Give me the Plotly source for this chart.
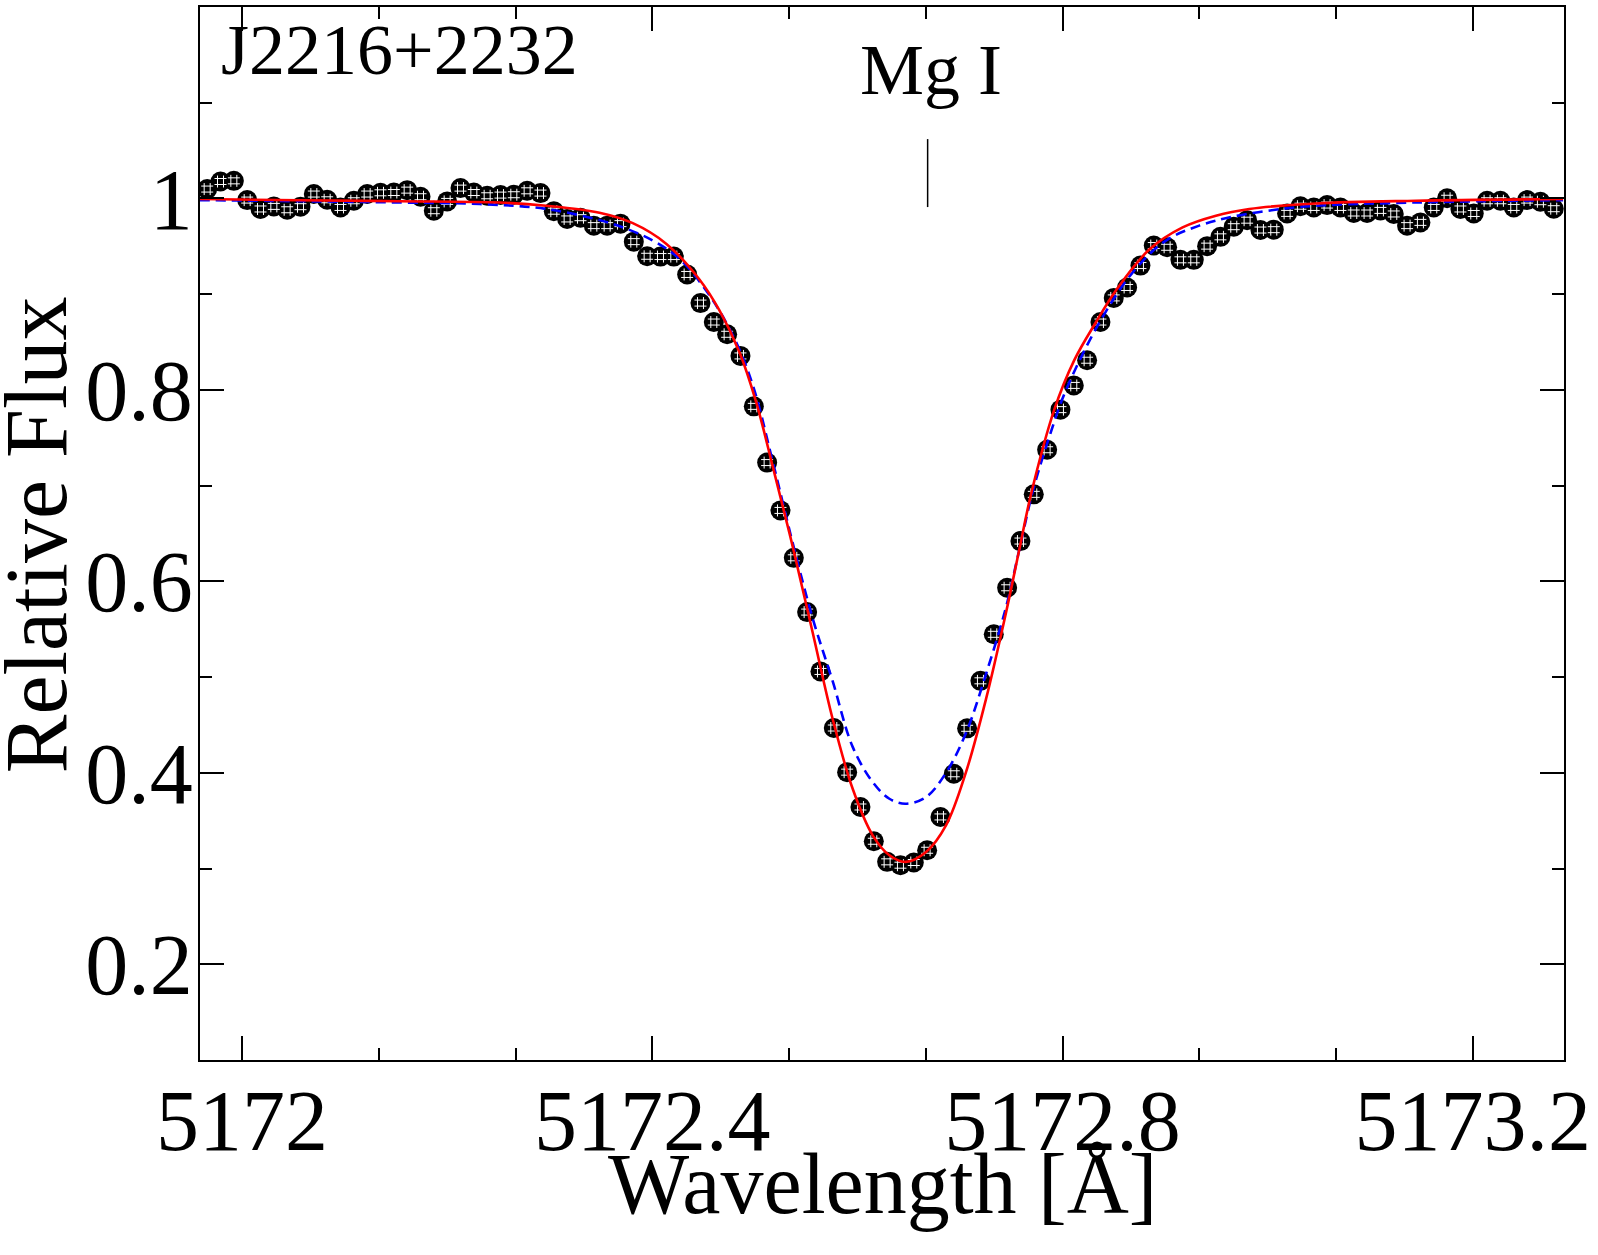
import plotly.graph_objects as go

# Observed spectrum
wave_obs = [5171.966, 5171.979, 5171.992, 5172.005, 5172.018, 5172.031, 5172.044, 5172.057, 5172.070, 5172.083,
            5172.096, 5172.109, 5172.122, 5172.135, 5172.148, 5172.161, 5172.174, 5172.187, 5172.200, 5172.213,
            5172.226, 5172.239, 5172.252, 5172.265, 5172.278, 5172.291, 5172.304, 5172.317, 5172.330, 5172.343,
            5172.356, 5172.369, 5172.382, 5172.395, 5172.408, 5172.421, 5172.434, 5172.447, 5172.460, 5172.473,
            5172.486, 5172.499, 5172.512, 5172.525, 5172.538, 5172.551, 5172.564, 5172.577, 5172.590, 5172.603,
            5172.616, 5172.629, 5172.642, 5172.655, 5172.668, 5172.681, 5172.694, 5172.707, 5172.720, 5172.733,
            5172.746, 5172.759, 5172.772, 5172.785, 5172.798, 5172.811, 5172.824, 5172.837, 5172.850, 5172.863,
            5172.876, 5172.889, 5172.902, 5172.915, 5172.928, 5172.941, 5172.954, 5172.967, 5172.980, 5172.993,
            5173.006, 5173.019, 5173.032, 5173.045, 5173.058, 5173.071, 5173.084, 5173.097, 5173.110, 5173.123,
            5173.136, 5173.149, 5173.162, 5173.175, 5173.188, 5173.201, 5173.214, 5173.227, 5173.240, 5173.253,
            5173.266, 5173.279]
flux_obs = [1.0098, 1.0177, 1.0184, 0.9983, 0.9890, 0.9917, 0.9882, 0.9914, 1.0046, 0.9986,
            0.9906, 0.9976, 1.0046, 1.0059, 1.0062, 1.0087, 1.0018, 0.9872, 0.9969, 1.0108,
            1.0062, 1.0028, 1.0035, 1.0039, 1.0080, 1.0056, 0.9867, 0.9786, 0.9799, 0.9716,
            0.9716, 0.9737, 0.9549, 0.9396, 0.9393, 0.9393, 0.9206, 0.8907, 0.8709, 0.8581,
            0.8355, 0.7828, 0.7241, 0.6741, 0.6246, 0.5679, 0.5059, 0.4468, 0.4007, 0.3643,
            0.3285, 0.3070, 0.3035, 0.3063, 0.3191, 0.3539, 0.3990, 0.4465, 0.4961, 0.5447,
            0.5933, 0.6421, 0.6909, 0.7375, 0.7794, 0.8047, 0.8310, 0.8709, 0.8961, 0.9070,
            0.9299, 0.9508, 0.9490, 0.9359, 0.9359, 0.9502, 0.9599, 0.9705, 0.9773, 0.9670,
            0.9674, 0.9844, 0.9919, 0.9906, 0.9931, 0.9906, 0.9848, 0.9848, 0.9875, 0.9838,
            0.9716, 0.9750, 0.9906, 1.0002, 0.9890, 0.9843, 0.9976, 0.9976, 0.9906, 0.9983,
            0.9966, 0.9893]

# Best-fit synthetic profile (red, solid)
wave_fit = [5171.9587, 5172.0561, 5172.1536, 5172.2511, 5172.2966, 5172.3485, 5172.3810, 5172.4135, 5172.4460,
            5172.4655, 5172.4850, 5172.5013, 5172.5175, 5172.5369, 5172.5564, 5172.5759, 5172.5954, 5172.6149,
            5172.6312, 5172.6468, 5172.6670, 5172.6864, 5172.7059, 5172.7254, 5172.7449, 5172.7579, 5172.7693,
            5172.7920, 5172.8115, 5172.8327, 5172.8521, 5172.8846, 5172.9171, 5172.9496, 5172.9821, 5173.0471,
            5173.1445, 5173.2881]
flux_fit = [0.9994, 0.9981, 0.9971, 0.9958, 0.9924, 0.9851, 0.9742, 0.9528, 0.9154,
            0.8831, 0.8394, 0.7873, 0.7199, 0.6366, 0.5465, 0.4562, 0.3833, 0.3347,
            0.3139, 0.3070, 0.3174, 0.3451, 0.4007, 0.4770, 0.5673, 0.6332, 0.6909,
            0.7794, 0.8311, 0.8709, 0.9039, 0.9466, 0.9698, 0.9820, 0.9890, 0.9948,
            0.9976, 0.9994]

# Alternative synthetic profile (blue, dashed)
wave_alt = [5171.9587, 5172.0561, 5172.1536, 5172.2316, 5172.2966, 5172.3615, 5172.4005, 5172.4265, 5172.4525,
            5172.4785, 5172.4980, 5172.5175, 5172.5369, 5172.5564, 5172.5759, 5172.5954, 5172.6149, 5172.6312,
            5172.6468, 5172.6670, 5172.6864, 5172.7059, 5172.7254, 5172.7449, 5172.7579, 5172.7709, 5172.7871,
            5172.8034, 5172.8359, 5172.8683, 5172.9009, 5172.9333, 5172.9658, 5173.0178, 5173.0471, 5173.1445,
            5173.2881]
flux_alt = [0.9983, 0.9971, 0.9958, 0.9942, 0.9890, 0.9733, 0.9560, 0.9369, 0.9039,
            0.8571, 0.8050, 0.7248, 0.6402, 0.5614, 0.4957, 0.4271, 0.3903, 0.3729,
            0.3677, 0.3747, 0.4000, 0.4416, 0.5031, 0.5728, 0.6332, 0.6936, 0.7509,
            0.7998, 0.8702, 0.9226, 0.9560, 0.9716, 0.9809, 0.9896, 0.9924, 0.9958,
            0.9983]

# Line identification marker
line_label = "Mg I"
line_mark_x = [5172.6685, 5172.6685]
line_mark_y = [0.991, 1.062]
star_name = "J2216+2232"

x_range = [5171.959, 5173.289]
y_range = [0.1, 1.2]
x_major = [5172.0, 5172.4, 5172.8, 5173.2]
x_major_text = ["5172", "5172.4", "5172.8", "5173.2"]
x_minor = [5172.1333, 5172.2667, 5172.5333, 5172.6667, 5172.9333, 5173.0667]
y_major = [0.2, 0.4, 0.6, 0.8, 1.0]
y_major_text = ["0.2", "0.4", "0.6", "0.8", "1"]
y_minor = [0.3, 0.5, 0.7, 0.9, 1.1]

FONT = "Liberation Serif, Times New Roman, serif"

fig = go.Figure()
fig.add_trace(go.Scatter(x=wave_obs, y=flux_obs, mode="markers",
                         marker=dict(symbol="circle", size=20, color="black", line=dict(width=0)),
                         hoverinfo="skip", showlegend=False))
fig.add_trace(go.Scatter(x=wave_obs, y=flux_obs, mode="markers",
                         marker=dict(symbol="hash-open", size=12, color="white", line=dict(width=1, color="white")),
                         hoverinfo="skip", showlegend=False))
fig.add_trace(go.Scatter(x=wave_alt, y=flux_alt, mode="lines",
                         line=dict(color="#0000ff", width=2.6, dash="10px,6px", shape="spline", smoothing=1.0),
                         hoverinfo="skip", showlegend=False))
fig.add_trace(go.Scatter(x=wave_fit, y=flux_fit, mode="lines",
                         line=dict(color="#ff0000", width=2.6, shape="spline", smoothing=1.0),
                         hoverinfo="skip", showlegend=False))
fig.add_trace(go.Scatter(x=line_mark_x, y=line_mark_y, mode="lines", line=dict(color="black", width=1.5),
                         hoverinfo="skip", showlegend=False))

axis_common = dict(showgrid=False, zeroline=False, showline=True, linecolor="black", linewidth=2,
                   mirror="ticks", ticks="inside", ticklen=24, tickwidth=1.5, tickcolor="black",
                   tickfont=dict(family=FONT, size=86, color="black"))

fig.update_xaxes(range=x_range, tickmode="array", tickvals=x_major, ticktext=x_major_text,
                 ticklabelstandoff=-15,
                 minor=dict(tickmode="array", tickvals=x_minor, ticks="inside", ticklen=12, tickwidth=1.5, tickcolor="black"),
                 **axis_common)
fig.update_yaxes(range=y_range, tickmode="array", tickvals=y_major, ticktext=y_major_text,
                 ticklabelstandoff=-12,
                 minor=dict(tickmode="array", tickvals=y_minor, ticks="inside", ticklen=12, tickwidth=1.5, tickcolor="black"),
                 **axis_common)

fig.update_layout(
    width=1598, height=1255,
    margin=dict(l=200, r=34, t=5, b=195),
    paper_bgcolor="white", plot_bgcolor="white",
    font=dict(family=FONT, color="black"),
    annotations=[
        dict(text=star_name, x=5171.978, y=1.1548, xref="x", yref="y", xanchor="left", yanchor="middle",
             showarrow=False, font=dict(family=FONT, size=72, color="black")),
        dict(text=line_label, x=5172.6716, y=1.1341, xref="x", yref="y", xanchor="center", yanchor="middle",
             showarrow=False, font=dict(family=FONT, size=72, color="black")),
        dict(text="Wavelength [Å]", x=0.5, y=-0.118, xref="paper", yref="paper", xanchor="center", yanchor="middle",
             showarrow=False, font=dict(family=FONT, size=86, color="black")),
        dict(text="Relative Flux", x=-0.1198, y=0.499, xref="paper", yref="paper", xanchor="center", yanchor="middle",
             textangle=-90, showarrow=False, font=dict(family=FONT, size=88, color="black")),
    ],
)

fig.write_html("out.html")
